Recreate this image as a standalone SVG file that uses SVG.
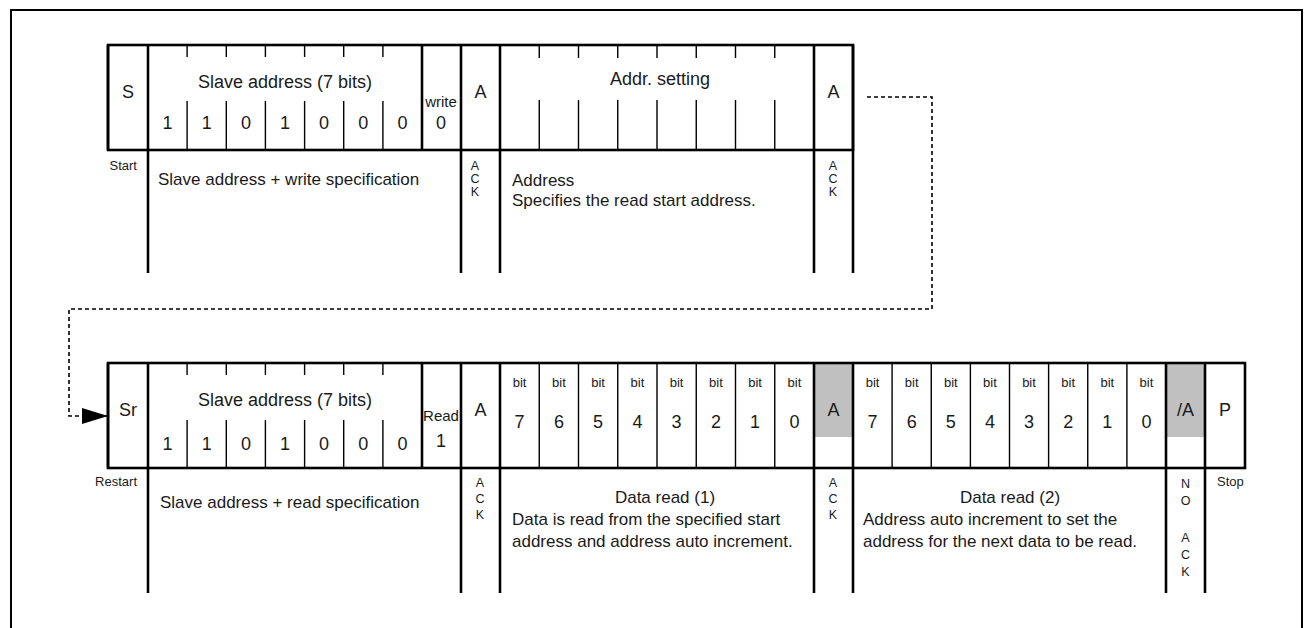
<svg xmlns="http://www.w3.org/2000/svg" width="1304" height="628" viewBox="0 0 1304 628">
<defs>
<style>
text{font-family:"Liberation Sans",Arial,sans-serif;fill:#1a1a1a}
.t{font-size:18px;text-anchor:middle}
.d{font-size:17px}
.dc{font-size:17px;text-anchor:middle}
.s{font-size:12.5px;text-anchor:middle}
.b{font-size:13px;text-anchor:middle}
.sr{font-size:13px;text-anchor:end}
.sl{font-size:13px}
.sm{font-size:15px;text-anchor:middle}
.box{fill:none;stroke:#000;stroke-width:2.6}
.hv{stroke:#000;stroke-width:2.6;fill:none}
.th{stroke:#000;stroke-width:1.4;fill:none}
.grey{fill:#c0c0c0}
.dash{stroke:#000;stroke-width:1.6;fill:none;stroke-dasharray:4 3}
</style>
<marker id="arr" viewBox="0 0 26 16" refX="26" refY="8" markerWidth="26" markerHeight="16" markerUnits="userSpaceOnUse" orient="auto">
<path d="M0,0 L26,8 L0,16 Z" fill="#000"/>
</marker>
</defs>
<rect width="1304" height="628" fill="#fff"/>
<path d="M11,628 V10 H1302 V628" fill="none" stroke="#000" stroke-width="2"/>

<!-- Top row -->
<g id="top-start">
<path class="hv" d="M108,45 V150"/>
<text class="t" x="128" y="98">S</text>
<text class="sr" x="137" y="170">Start</text>
</g>
<g id="top-slave-address">
<path class="th" d="M187.1,45 V57 M187.1,101 V150 M226.3,45 V57 M226.3,101 V150 M265.4,45 V57 M265.4,101 V150 M304.6,45 V57 M304.6,101 V150 M343.7,45 V57 M343.7,101 V150 M382.9,45 V57 M382.9,101 V150"/>
<path class="hv" d="M148,45 V273"/>
<text class="t" x="285" y="88">Slave address (7 bits)</text>
<text class="t" x="167.6" y="129">1</text>
<text class="t" x="206.7" y="129">1</text>
<text class="t" x="245.9" y="129">0</text>
<text class="t" x="285" y="129">1</text>
<text class="t" x="324.1" y="129">0</text>
<text class="t" x="363.3" y="129">0</text>
<text class="t" x="402.4" y="129">0</text>
<text class="d" x="158" y="185">Slave address + write specification</text>
</g>
<g id="top-write">
<path class="hv" d="M422,45 V150"/>
<text class="sm" x="441" y="107">write</text>
<text class="t" x="441" y="129">0</text>
</g>
<g id="top-ack1">
<path class="hv" d="M461,45 V273"/>
<text class="t" x="480.5" y="98">A</text>
<text class="s" x="475" y="170">A</text>
<text class="s" x="475" y="183">C</text>
<text class="s" x="475" y="196">K</text>
</g>
<g id="top-addr-setting">
<path class="hv" d="M500,45 V273"/>
<path class="th" d="M539.25,45 V58 M539.25,100 V150 M578.5,45 V58 M578.5,100 V150 M617.75,45 V58 M617.75,100 V150 M657,45 V58 M657,100 V150 M696.25,45 V58 M696.25,100 V150 M735.5,45 V58 M735.5,100 V150 M774.75,45 V58 M774.75,100 V150"/>
<text class="t" x="660" y="85">Addr. setting</text>
<text class="d" x="512" y="186">Address</text>
<text class="d" x="512" y="206">Specifies the read start address.</text>
</g>
<g id="top-ack2">
<path class="hv" d="M814,45 V273 M853,45 V273"/>
<text class="t" x="833.5" y="98">A</text>
<text class="s" x="833" y="170">A</text>
<text class="s" x="833" y="183">C</text>
<text class="s" x="833" y="196">K</text>
</g>
<rect class="box" x="108" y="45" width="745" height="105"/>

<!-- Bottom row -->
<g id="bot-grey">
<rect class="grey" x="814" y="363" width="39" height="74"/>
<rect class="grey" x="1166" y="363" width="39" height="74"/>
</g>
<g id="bot-restart">
<path class="hv" d="M108,363 V468"/>
<text class="t" x="128" y="416">Sr</text>
<text class="sr" x="137" y="486">Restart</text>
</g>
<g id="bot-slave-address">
<path class="th" d="M187.1,363 V375 M187.1,420 V468 M226.3,363 V375 M226.3,420 V468 M265.4,363 V375 M265.4,420 V468 M304.6,363 V375 M304.6,420 V468 M343.7,363 V375 M343.7,420 V468 M382.9,363 V375 M382.9,420 V468"/>
<path class="hv" d="M148,363 V593"/>
<text class="t" x="285" y="406">Slave address (7 bits)</text>
<text class="t" x="167.6" y="450">1</text>
<text class="t" x="206.7" y="450">1</text>
<text class="t" x="245.9" y="450">0</text>
<text class="t" x="285" y="450">1</text>
<text class="t" x="324.1" y="450">0</text>
<text class="t" x="363.3" y="450">0</text>
<text class="t" x="402.4" y="450">0</text>
<text class="d" x="160" y="508">Slave address + read specification</text>
</g>
<g id="bot-read">
<path class="hv" d="M422,363 V468"/>
<text class="sm" x="441" y="421">Read</text>
<text class="t" x="441" y="447">1</text>
</g>
<g id="bot-ack1">
<path class="hv" d="M461,363 V593"/>
<text class="t" x="480.5" y="416">A</text>
<text class="s" x="480" y="487">A</text>
<text class="s" x="480" y="503">C</text>
<text class="s" x="480" y="519">K</text>
</g>
<g id="bot-data1">
<path class="hv" d="M500,363 V593"/>
<path class="th" d="M539.25,363 V468 M578.5,363 V468 M617.75,363 V468 M657,363 V468 M696.25,363 V468 M735.5,363 V468 M774.75,363 V468"/>
<text class="b" x="519.6" y="387">bit</text><text class="b" x="558.9" y="387">bit</text><text class="b" x="598.1" y="387">bit</text><text class="b" x="637.4" y="387">bit</text><text class="b" x="676.6" y="387">bit</text><text class="b" x="715.9" y="387">bit</text><text class="b" x="755.1" y="387">bit</text><text class="b" x="794.4" y="387">bit</text>
<text class="t" x="519.6" y="428">7</text><text class="t" x="558.9" y="428">6</text><text class="t" x="598.1" y="428">5</text><text class="t" x="637.4" y="428">4</text><text class="t" x="676.6" y="428">3</text><text class="t" x="715.9" y="428">2</text><text class="t" x="755.1" y="428">1</text><text class="t" x="794.4" y="428">0</text>
<text class="dc" x="665" y="503">Data read (1)</text>
<text class="d" x="512" y="525">Data is read from the specified start</text>
<text class="d" x="512" y="547">address and address auto increment.</text>
</g>
<g id="bot-ack2">
<path class="hv" d="M814,363 V593 M853,363 V593"/>
<text class="t" x="833.5" y="416">A</text>
<text class="s" x="833" y="487">A</text>
<text class="s" x="833" y="503">C</text>
<text class="s" x="833" y="519">K</text>
</g>
<g id="bot-data2">
<path class="th" d="M892.1,363 V468 M931.25,363 V468 M970.4,363 V468 M1009.5,363 V468 M1048.6,363 V468 M1087.75,363 V468 M1126.9,363 V468"/>
<text class="b" x="872.6" y="387">bit</text><text class="b" x="911.7" y="387">bit</text><text class="b" x="950.8" y="387">bit</text><text class="b" x="989.9" y="387">bit</text><text class="b" x="1029" y="387">bit</text><text class="b" x="1068.2" y="387">bit</text><text class="b" x="1107.3" y="387">bit</text><text class="b" x="1146.4" y="387">bit</text>
<text class="t" x="872.6" y="428">7</text><text class="t" x="911.7" y="428">6</text><text class="t" x="950.8" y="428">5</text><text class="t" x="989.9" y="428">4</text><text class="t" x="1029" y="428">3</text><text class="t" x="1068.2" y="428">2</text><text class="t" x="1107.3" y="428">1</text><text class="t" x="1146.4" y="428">0</text>
<text class="dc" x="1010" y="503">Data read (2)</text>
<text class="d" x="863" y="525">Address auto increment to set the</text>
<text class="d" x="863" y="547">address for the next data to be read.</text>
</g>
<g id="bot-nack">
<path class="hv" d="M1166,363 V593"/>
<text class="t" x="1185.5" y="416">/A</text>
<text class="s" x="1185.5" y="488">N</text>
<text class="s" x="1185.5" y="505">O</text>
<text class="s" x="1185.5" y="542">A</text>
<text class="s" x="1185.5" y="559">C</text>
<text class="s" x="1185.5" y="576">K</text>
</g>
<g id="bot-stop">
<path class="hv" d="M1205,363 V593"/>
<text class="t" x="1225" y="416">P</text>
<text class="sl" x="1217" y="486">Stop</text>
</g>
<rect class="box" x="108" y="363" width="1137" height="105"/>

<g id="connectors">
<path class="dash" d="M867,97 H932 V309 H69 V416 H108" marker-end="url(#arr)"/>
</g>
</svg>
